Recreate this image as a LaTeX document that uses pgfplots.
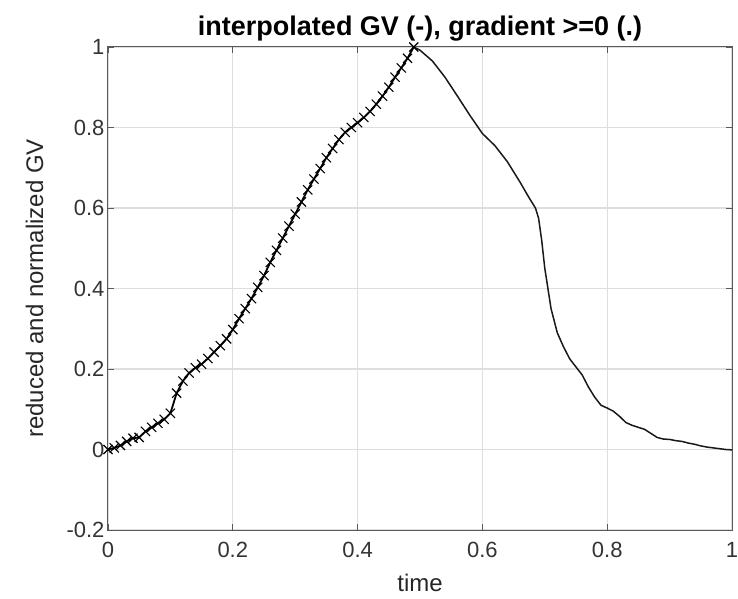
\documentclass[border=0pt]{standalone}
\usepackage{pgfplots}
\pgfplotsset{compat=1.18}
\usepackage{fontspec}
\setmainfont{Liberation Sans}
\begin{document}
\begin{tikzpicture}
\begin{axis}[
  scale only axis,
  width=624pt, height=483pt,
  xmin=0, xmax=1, ymin=-0.2, ymax=1,
  xtick={0,0.2,0.4,0.6,0.8,1},
  xticklabels={0,0.2,0.4,0.6,0.8,1},
  ytick={-0.2,0,0.2,0.4,0.6,0.8,1},
  yticklabels={-0.2,0,0.2,0.4,0.6,0.8,1},
  tick align=inside,
  major tick length=6pt,
  tick style={black!65, line width=0.8pt},
  axis line style={black!65, line width=1pt},
  grid=major,
  major grid style={black!13, line width=1.2pt},
  ticklabel style={font=\fontsize{22}{24}\selectfont, text=black!80},
  xticklabel style={yshift=-9pt},
  yticklabel style={xshift=0pt},
  xlabel={time},
  ylabel={reduced and normalized GV},
  label style={font=\fontsize{24}{26}\selectfont, text=black!85},
  xlabel style={at={(axis description cs:0.5,-0.128)}, anchor=base},
  ylabel style={at={(axis description cs:-0.104,0.5)}, anchor=base, rotate=0},
  title={\bfseries interpolated GV (-), gradient >=0 (.)},
  title style={font=\fontsize{27}{29}\selectfont, at={(axis description cs:0.5,1.012)}, anchor=base},
]
\addplot[black, line width=1.8pt, mark=x, mark size=6.5pt, mark options={line width=1.1pt}] coordinates {
(0.00,0.000)(0.01,0.004)(0.02,0.010)(0.03,0.020)(0.04,0.028)(0.05,0.030)
(0.06,0.045)(0.07,0.055)(0.08,0.065)(0.09,0.075)(0.10,0.090)(0.11,0.140)
(0.12,0.170)(0.13,0.190)(0.14,0.203)(0.15,0.212)(0.16,0.226)(0.17,0.242)
(0.18,0.258)(0.19,0.275)(0.20,0.298)(0.21,0.325)(0.22,0.350)(0.23,0.375)
(0.24,0.403)(0.25,0.432)(0.26,0.465)(0.27,0.495)(0.28,0.525)(0.29,0.555)
(0.30,0.585)(0.31,0.615)(0.32,0.645)(0.33,0.672)(0.34,0.698)(0.35,0.725)
(0.36,0.748)(0.37,0.770)(0.38,0.788)(0.39,0.800)(0.40,0.812)(0.41,0.825)
(0.42,0.840)(0.43,0.858)(0.44,0.878)(0.45,0.900)(0.46,0.925)(0.47,0.948)
(0.48,0.972)(0.49,1.000)
};
\addplot[black!90, line width=1.5pt] coordinates {
(0.49,1.000)(0.50,0.992)(0.52,0.965)(0.54,0.925)(0.56,0.878)(0.58,0.830)
(0.60,0.785)(0.62,0.755)(0.64,0.715)(0.66,0.665)(0.675,0.625)(0.685,0.600)
(0.69,0.575)(0.695,0.520)(0.70,0.450)(0.705,0.400)(0.71,0.350)(0.72,0.290)
(0.73,0.255)(0.74,0.225)(0.75,0.205)(0.76,0.185)(0.77,0.155)(0.78,0.130)
(0.79,0.110)(0.80,0.103)(0.81,0.095)(0.82,0.082)(0.83,0.067)(0.84,0.060)
(0.85,0.055)(0.86,0.050)(0.87,0.040)(0.88,0.030)(0.89,0.026)(0.90,0.025)
(0.91,0.022)(0.92,0.020)(0.93,0.016)(0.94,0.013)(0.95,0.009)(0.96,0.006)
(0.97,0.004)(0.98,0.002)(0.99,0.000)(1.00,-0.001)
};
\end{axis}
\pgfresetboundingbox
\path[use as bounding box] (-108pt,-68pt) rectangle (630pt,530pt);
\end{tikzpicture}
\end{document}
